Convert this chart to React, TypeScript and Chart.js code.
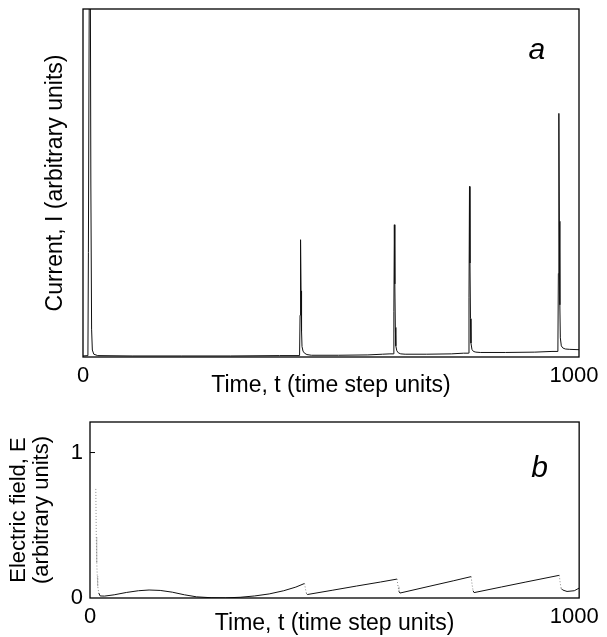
import React, { useEffect, useRef } from 'react';
import { Chart, registerables } from 'chart.js';
Chart.register(...registerables);

const FONT = "'Liberation Sans', Arial, Helvetica, sans-serif";

// axis ranges / tick labels
const X_MAX = 1010;
const X_TICKS = [0, 1000];
const I_MAX = 1;
const E_MAX = 1.21;
const E_TICKS = [0, 1];

// panel a: current I(t)
const currentT = [
  0, 10, 11, 14, 16, 17.5, 19, 22, 30, 100, 200, 300, 400,
  441, 442, 443, 444, 445, 446, 448, 451, 456, 465, 520, 580, 610, 625,
  632, 633, 634, 635, 636, 637, 639, 642, 647, 656, 700, 750, 775,
  785, 786, 787, 788, 789, 790, 792, 795, 800, 809, 860, 920, 955,
  967, 968, 969, 970, 971, 972, 974, 977, 982, 991, 1010,
];
const currentI = [
  0.003, 0.004, 0.3, 1.6, 0.5, 0.08, 0.02, 0.008, 0.004, 0.003, 0.003, 0.003, 0.004,
  0.004, 0.12, 0.337, 0.19, 0.075, 0.03, 0.017, 0.011, 0.007, 0.005, 0.005, 0.006, 0.008, 0.009,
  0.009, 0.13, 0.38, 0.21, 0.085, 0.032, 0.018, 0.012, 0.009, 0.008, 0.008, 0.009, 0.011,
  0.011, 0.17, 0.49, 0.27, 0.11, 0.04, 0.022, 0.016, 0.014, 0.013, 0.013, 0.014, 0.016,
  0.016, 0.24, 0.7, 0.39, 0.15, 0.055, 0.032, 0.026, 0.023, 0.022, 0.021,
];

// panel b: electric field E(t)
const fieldT = [
  12, 13, 14, 15, 16, 18, 21, 30, 50, 75, 100, 122, 145, 170, 195, 220, 250, 280,
  310, 340, 370, 400, 425, 443, 445, 447, 449, 500, 550, 600, 634, 636, 638, 640,
  700, 750, 787, 789, 791, 793, 850, 900, 969, 971, 973, 976, 985, 1000, 1010,
];
const fieldE = [
  0.75, 0.42, 0.24, 0.15, 0.08, 0.035, 0.014, 0.013, 0.022, 0.038, 0.05, 0.055, 0.052, 0.04, 0.022, 0.008, 0.002, 0.001,
  0.005, 0.014, 0.028, 0.05, 0.075, 0.1, 0.06, 0.03, 0.024, 0.053, 0.082, 0.11, 0.13, 0.08, 0.045, 0.034,
  0.08, 0.118, 0.147, 0.09, 0.05, 0.037, 0.076, 0.11, 0.156, 0.1, 0.065, 0.055, 0.045, 0.05, 0.068,
];

const framePlugin = {
  id: 'frame',
  afterDraw(chart: any, _args: any, opts: any) {
    const { ctx, chartArea } = chart;
    const { left, top, right, bottom } = chartArea;
    ctx.save();
    ctx.strokeStyle = '#000';
    ctx.lineWidth = 1.3;
    ctx.strokeRect(left, top, right - left, bottom - top);
    if (opts.tickAt != null) {
      const y = chart.scales.y.getPixelForValue(opts.tickAt);
      ctx.lineWidth = 1;
      ctx.beginPath();
      ctx.moveTo(left, y);
      ctx.lineTo(left + 5, y);
      ctx.stroke();
    }
    if (opts.panel) {
      ctx.fillStyle = '#000';
      ctx.font = `italic 30px ${FONT}`;
      ctx.textAlign = 'center';
      ctx.textBaseline = 'alphabetic';
      ctx.fillText(opts.panel, left + (right - left) * opts.px, top + (bottom - top) * opts.py);
    }
    ctx.restore();
  },
};

const noGrid = { display: false, drawTicks: false };

export default function App() {
  const topRef = useRef<HTMLCanvasElement>(null);
  const botRef = useRef<HTMLCanvasElement>(null);

  useEffect(() => {
    document.body.style.margin = '0';
    const c1 = new Chart(topRef.current as HTMLCanvasElement, {
      type: 'line',
      data: {
        datasets: [
          {
            data: currentT.map((t, i) => ({ x: t, y: currentI[i] })),
            borderColor: '#111',
            borderWidth: 1,
            pointRadius: 0,
            tension: 0,
            fill: false,
          },
        ],
      },
      options: {
        animation: false,
        responsive: false,
        devicePixelRatio: 1,
        layout: { padding: { left: 0, top: 9, right: 28, bottom: 0 } },
        plugins: {
          legend: { display: false },
          tooltip: { enabled: false },
          frame: { panel: 'a', px: 0.915, py: 0.143 },
        } as any,
        scales: {
          x: {
            type: 'linear',
            min: 0,
            max: X_MAX,
            grid: noGrid,
            border: { display: false },
            afterBuildTicks: (s: any) => {
              s.ticks = X_TICKS.map((v) => ({ value: v }));
            },
            afterFit: (s: any) => {
              s.height = 43;
            },
            ticks: {
              color: '#000',
              font: { family: FONT, size: 22, lineHeight: 1 },
              padding: 8,
              maxRotation: 0,
              autoSkip: false,
              callback: (v: any) => String(v),
            },
            title: {
              display: true,
              text: 'Time, t (time step units)',
              color: '#000',
              font: { family: FONT, size: 23, lineHeight: 1 },
              padding: { top: 0, bottom: 3 },
            },
          },
          y: {
            type: 'linear',
            min: 0,
            max: I_MAX,
            grid: noGrid,
            border: { display: false },
            ticks: { display: false },
            afterFit: (s: any) => {
              s.width = 83;
            },
            title: {
              display: true,
              text: 'Current, I (arbitrary units)',
              color: '#000',
              font: { family: FONT, size: 23, lineHeight: 1 },
              padding: { top: 44.5, bottom: 0 },
            },
          },
        },
      },
      plugins: [framePlugin],
    } as any);

    const steep = (ctx: any) => {
      const dx = ctx.p1.x - ctx.p0.x;
      const dy = ctx.p1.y - ctx.p0.y;
      return dy > 4 * Math.abs(dx);
    };

    const c2 = new Chart(botRef.current as HTMLCanvasElement, {
      type: 'line',
      data: {
        datasets: [
          {
            data: fieldT.map((t, i) => ({ x: t, y: fieldE[i] })),
            borderColor: '#111',
            borderWidth: 1,
            pointRadius: 0,
            tension: 0,
            fill: false,
            segment: {
              borderColor: (ctx: any) => (steep(ctx) ? '#8a8a8a' : '#111'),
              borderDash: (ctx: any) => (steep(ctx) ? [1, 2] : undefined),
            },
          },
        ],
      },
      options: {
        animation: false,
        responsive: false,
        devicePixelRatio: 1,
        layout: { padding: { left: 0, top: 22, right: 22, bottom: 0 } },
        plugins: {
          legend: { display: false },
          tooltip: { enabled: false },
          frame: { panel: 'b', px: 0.919, py: 0.31, tickAt: 1 },
        } as any,
        scales: {
          x: {
            type: 'linear',
            min: 0,
            max: X_MAX,
            grid: noGrid,
            border: { display: false },
            afterBuildTicks: (s: any) => {
              s.ticks = X_TICKS.map((v) => ({ value: v }));
            },
            afterFit: (s: any) => {
              s.height = 39;
            },
            ticks: {
              color: '#000',
              font: { family: FONT, size: 22, lineHeight: 1 },
              padding: 8,
              maxRotation: 0,
              autoSkip: false,
              callback: (v: any) => String(v),
            },
            title: {
              display: true,
              text: 'Time, t (time step units)',
              color: '#000',
              font: { family: FONT, size: 23, lineHeight: 1 },
              padding: { top: 0, bottom: 1.5 },
            },
          },
          y: {
            type: 'linear',
            min: 0,
            max: E_MAX,
            grid: noGrid,
            border: { display: false },
            afterBuildTicks: (s: any) => {
              s.ticks = E_TICKS.map((v) => ({ value: v }));
            },
            afterFit: (s: any) => {
              s.width = 90;
            },
            ticks: {
              color: '#000',
              font: { family: FONT, size: 22, lineHeight: 1 },
              padding: 7,
              callback: (v: any) => String(v),
            },
            title: {
              display: true,
              text: ['Electric field, E', '(arbitrary units)'],
              color: '#000',
              font: { family: FONT, size: 22, lineHeight: 23 / 22 },
              padding: { top: 7.5, bottom: 0 },
            },
          },
        },
      },
      plugins: [framePlugin],
    } as any);

    return () => {
      c1.destroy();
      c2.destroy();
    };
  }, []);

  return (
    <div style={{ position: 'relative', width: 607, height: 637, background: '#fff' }}>
      <canvas
        ref={topRef}
        width={607}
        height={400}
        style={{ position: 'absolute', left: 0, top: 0, width: 607, height: 400 }}
      />
      <canvas
        ref={botRef}
        width={607}
        height={237}
        style={{ position: 'absolute', left: 0, top: 400, width: 607, height: 237 }}
      />
    </div>
  );
}
